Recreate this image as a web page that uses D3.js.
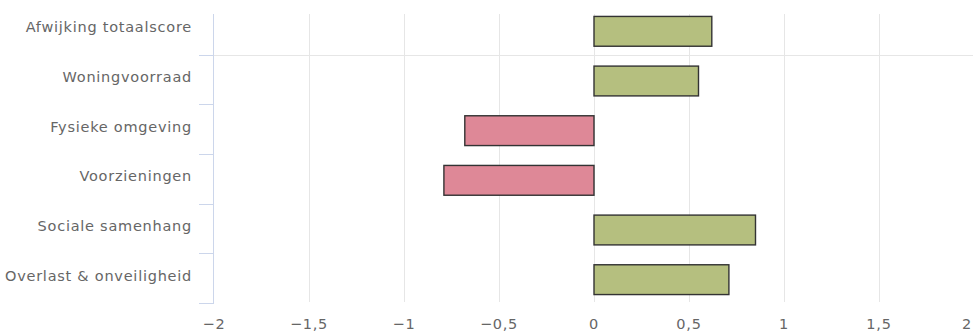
<!DOCTYPE html>
<html>
<head>
<meta charset="utf-8">
<script src="https://cdn.jsdelivr.net/npm/d3@7/dist/d3.min.js"></script>
<style>
  html, body { margin: 0; padding: 0; background: #fff; }
  svg { display: block; }
</style>
</head>
<body>
<svg id="chart" width="973" height="332"></svg>
<script>
// Afwijking per thema ten opzichte van het gemiddelde
const categories = [
  "Afwijking totaalscore",
  "Woningvoorraad",
  "Fysieke omgeving",
  "Voorzieningen",
  "Sociale samenhang",
  "Overlast & onveiligheid"
];
const values = [0.62, 0.55, -0.68, -0.79, 0.85, 0.71];
const xTicks = [-2, -1.5, -1, -0.5, 0, 0.5, 1, 1.5, 2];

const W = 973, H = 332;
const plot = { left: 214, right: 974, top: 5, bottom: 303, lineTop: 14 };
const font = "'DejaVu Sans', Verdana, sans-serif";

const svg = d3.select("#chart");

const x = d3.scaleLinear().domain([-2, 2]).range([plot.left, plot.right]);
const y = d3.scaleBand().domain(categories).range([plot.top, plot.bottom]).paddingInner(0.4).paddingOuter(0.2);
const yBand = d3.scaleBand().domain(categories).range([plot.top, plot.bottom]);

// verticale rasterlijnen
svg.append("g")
  .selectAll("line")
  .data(xTicks.filter(d => d !== -2))
  .join("line")
  .attr("x1", d => Math.round(x(d)) + 0.5)
  .attr("x2", d => Math.round(x(d)) + 0.5)
  .attr("y1", plot.lineTop)
  .attr("y2", plot.bottom - 1)
  .attr("stroke", "#e6e6e6")
  .attr("stroke-width", 1);

// scheiding onder de totaalscore
svg.append("line")
  .attr("x1", plot.left).attr("x2", W)
  .attr("y1", Math.round(yBand(categories[1])) + 0.5)
  .attr("y2", Math.round(yBand(categories[1])) + 0.5)
  .attr("stroke", "#e6e6e6")
  .attr("stroke-width", 1);

// categorie-as
svg.append("line")
  .attr("x1", plot.left - 0.5).attr("x2", plot.left - 0.5)
  .attr("y1", plot.lineTop).attr("y2", plot.bottom)
  .attr("stroke", "#ccd6eb");

svg.append("g")
  .selectAll("line")
  .data(categories.slice(1).concat(["__end"]))
  .join("line")
  .attr("x1", plot.left - 15)
  .attr("x2", plot.left)
  .attr("y1", (d, i) => Math.round(i < 5 ? yBand(d) : plot.bottom) + 0.5)
  .attr("y2", (d, i) => Math.round(i < 5 ? yBand(d) : plot.bottom) + 0.5)
  .attr("stroke", "#ccd6eb");

svg.append("g")
  .selectAll("text")
  .data(categories)
  .join("text")
  .attr("x", 192)
  .attr("y", d => yBand(d) + yBand.bandwidth() / 2 + 2.5)
  .attr("text-anchor", "end")
  .attr("font-family", font)
  .attr("font-size", "14.5px")
  .attr("letter-spacing", "0.75px")
  .attr("fill", "#666")
  .text(d => d);

// balken
svg.append("g")
  .selectAll("rect")
  .data(values)
  .join("rect")
  .attr("x", d => x(Math.min(0, d)))
  .attr("y", (d, i) => y(categories[i]) + 1.5)
  .attr("width", d => Math.abs(x(d) - x(0)))
  .attr("height", y.bandwidth())
  .attr("fill", d => d >= 0 ? "#b5bf7f" : "#de8897")
  .attr("stroke", "#333")
  .attr("stroke-width", 1.4);

// waarde-as labels
const fmt = d => (d < 0 ? "\u2212" : "") + String(Math.abs(d)).replace(".", ",");
svg.append("g")
  .selectAll("text")
  .data(xTicks)
  .join("text")
  .attr("x", d => x(d) > W - 6 ? W - 1 : x(d))
  .attr("y", 329)
  .attr("text-anchor", d => x(d) > W - 6 ? "end" : "middle")
  .attr("font-family", font)
  .attr("font-size", "14.5px")
  .attr("letter-spacing", "0.75px")
  .attr("fill", "#666")
  .text(fmt);
</script>
</body>
</html>
